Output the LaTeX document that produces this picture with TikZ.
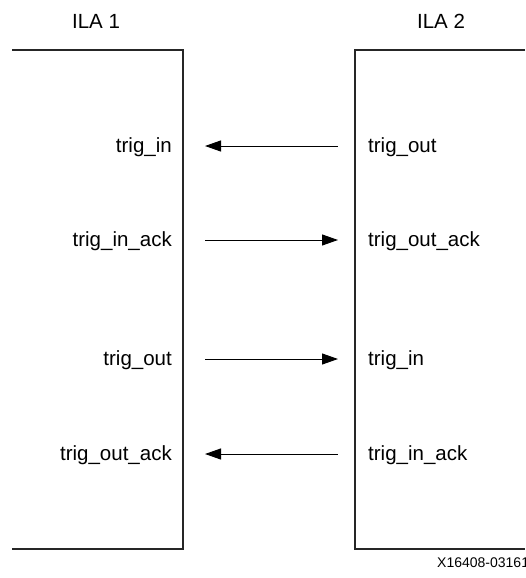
\documentclass[tikz,border=0pt]{standalone}
\usepackage{fontspec}
\setmainfont{Liberation Sans}
\usetikzlibrary{arrows.meta}
\begin{document}
\begin{tikzpicture}[x=1pt,y=-1pt,
    every node/.style={font=\fontsize{20.5}{24}\selectfont, inner sep=0pt},
    wall/.style={line width=1.1pt, black!85},
    sig/.style={line width=1pt, >={Triangle[length=16pt,width=11pt]}}]
    \useasboundingbox (0,0) rectangle (525,578);

    % the two ILA cores
    \node (ila1) at (96,21) {ILA 1};
    \node (ila2) at (441,21) {ILA 2};
    \draw[wall] (12,50) -- (183,50) -- (183,549) -- (12,549);
    \draw[wall] (525,50) -- (355,50) -- (355,549) -- (525,549);

    % trigger ports and links
    \foreach \n/\y/\a/\b/\tip in {1/146/trig\_in/trig\_out/<-,
                                  2/240/trig\_in\_ack/trig\_out\_ack/->,
                                  3/359/trig\_out/trig\_in/->,
                                  4/454/trig\_out\_ack/trig\_in\_ack/<-} {
      \node[anchor=base east] (pl\n) at (172,\y+6.5) {\a};
      \node[anchor=base west] (pr\n) at (368,\y+6.5) {\b};
      \coordinate (al\n) at (205,\y);
      \coordinate (ar\n) at (338,\y);
      \draw[sig,\tip] (al\n) -- (ar\n);
    }

    \node[anchor=west, font=\fontsize{14}{17}\selectfont] (fig) at (437,563) {X16408-031616};
  \end{tikzpicture}
\end{document}
